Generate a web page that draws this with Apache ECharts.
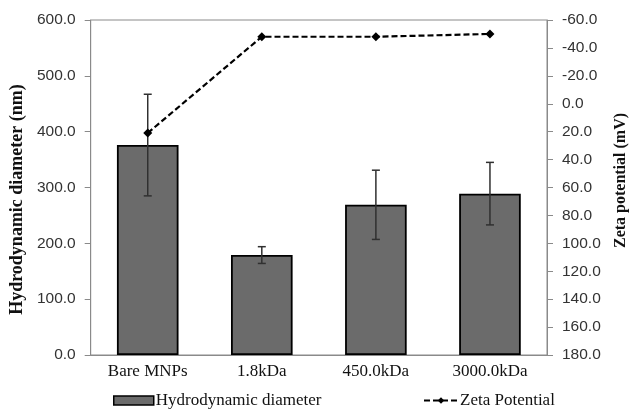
<!DOCTYPE html>
<html>
<head>
<meta charset="utf-8">
<script src="https://cdn.jsdelivr.net/npm/echarts@6/dist/echarts.min.js"></script>
<style>
html,body{margin:0;padding:0;background:#fff;}
#chart{width:637px;height:412px;}
</style>
</head>
<body>
<div id="chart"></div>
<script>
var categories = ['Bare MNPs', '1.8kDa', '450.0kDa', '3000.0kDa'];
var diameter = [376, 179, 269, 289];
var diameterErr = [91, 15, 62, 56];
var zeta = [21, -48, -48, -50];

var errData = diameter.map(function (v, i) { return [i, v - diameterErr[i], v + diameterErr[i]]; });

var serif = '"Liberation Serif", "Times New Roman", serif';
var sans = '"Liberation Sans", Arial, sans-serif';

var chart = echarts.init(document.getElementById('chart'), null, { renderer: 'canvas' });
chart.setOption({
  animation: false,
  backgroundColor: '#fff',
  grid: { left: 90, right: 80, top: 20, bottom: 57, show: true, borderColor: '#8a8a8a', borderWidth: 1, backgroundColor: 'transparent' },
  legend: [
    { data: [{ name: 'Hydrodynamic diameter', icon: 'rect' }], left: 108, top: 387, itemWidth: 40, itemHeight: 9, itemGap: 2,
      itemStyle: { borderColor: '#000', borderWidth: 1.5 },
      textStyle: { fontFamily: serif, fontSize: 17, color: '#111', padding: [0, 0, 0, -3] } },
    { data: ['Zeta Potential'], left: 418, top: 387, itemWidth: 34, itemHeight: 8,
      textStyle: { fontFamily: serif, fontSize: 17, color: '#111', padding: [0, 0, 0, -3] } }
  ],
  xAxis: {
    type: 'category', data: categories,
    axisLine: { lineStyle: { color: '#8a8a8a', width: 1 } },
    axisTick: { show: false },
    axisLabel: { fontFamily: serif, fontSize: 17, color: '#111', margin: 8 }
  },
  yAxis: [
    { type: 'value', min: 0, max: 600, interval: 100, position: 'left',
      name: 'Hydrodynamic diameter (nm)', nameLocation: 'middle', nameRotate: 90, nameGap: 62,
      nameTextStyle: { fontFamily: serif, fontSize: 18, fontWeight: 'bold', color: '#111', padding: [0, 24, 0, 0] },
      axisLine: { show: true, lineStyle: { color: '#8a8a8a' } },
      axisTick: { show: true, inside: false, length: 6, lineStyle: { color: '#8a8a8a' } },
      splitLine: { show: false },
      axisLabel: { fontFamily: sans, fontSize: 15.5, color: '#333', margin: 15, formatter: function (v) { return v.toFixed(1); } }
    },
    { type: 'value', min: -60, max: 180, interval: 20, inverse: true, position: 'right',
      name: 'Zeta potential (mV)', nameLocation: 'middle', nameRotate: 90, nameGap: 66,
      nameTextStyle: { fontFamily: serif, fontSize: 16, fontWeight: 'bold', color: '#111', padding: [0, 0, 0, 14] },
      axisLine: { show: true, lineStyle: { color: '#8a8a8a' } },
      axisTick: { show: true, inside: false, length: 6, lineStyle: { color: '#8a8a8a' } },
      splitLine: { show: false },
      axisLabel: { fontFamily: sans, fontSize: 15.5, color: '#333', margin: 15, formatter: function (v) { return v.toFixed(1); } }
    }
  ],
  series: [
    { name: 'Hydrodynamic diameter', type: 'bar', data: diameter, barWidth: '54%', yAxisIndex: 0,
      itemStyle: { color: '#6b6b6b', borderColor: '#000', borderWidth: 1.8 }, z: 2 },
    { name: 'errors', type: 'custom', data: errData, yAxisIndex: 0, z: 3,
      renderItem: function (params, api) {
        var x = api.value(0);
        var top = api.coord([x, api.value(2)]);
        var bot = api.coord([x, api.value(1)]);
        var hw = 4;
        var st = { stroke: '#303030', lineWidth: 1.5 };
        return { type: 'group', children: [
          { type: 'line', shape: { x1: top[0], y1: top[1], x2: bot[0], y2: bot[1] }, style: st },
          { type: 'line', shape: { x1: top[0] - hw, y1: top[1], x2: top[0] + hw, y2: top[1] }, style: st },
          { type: 'line', shape: { x1: bot[0] - hw, y1: bot[1], x2: bot[0] + hw, y2: bot[1] }, style: st }
        ] };
      }
    },
    { name: 'Zeta Potential', type: 'line', data: zeta, yAxisIndex: 1, z: 4,
      symbol: 'diamond', symbolSize: 9,
      lineStyle: { color: '#000', width: 2.2, type: [6, 3] },
      itemStyle: { color: '#000' } }
  ]
});
</script>
</body>
</html>
